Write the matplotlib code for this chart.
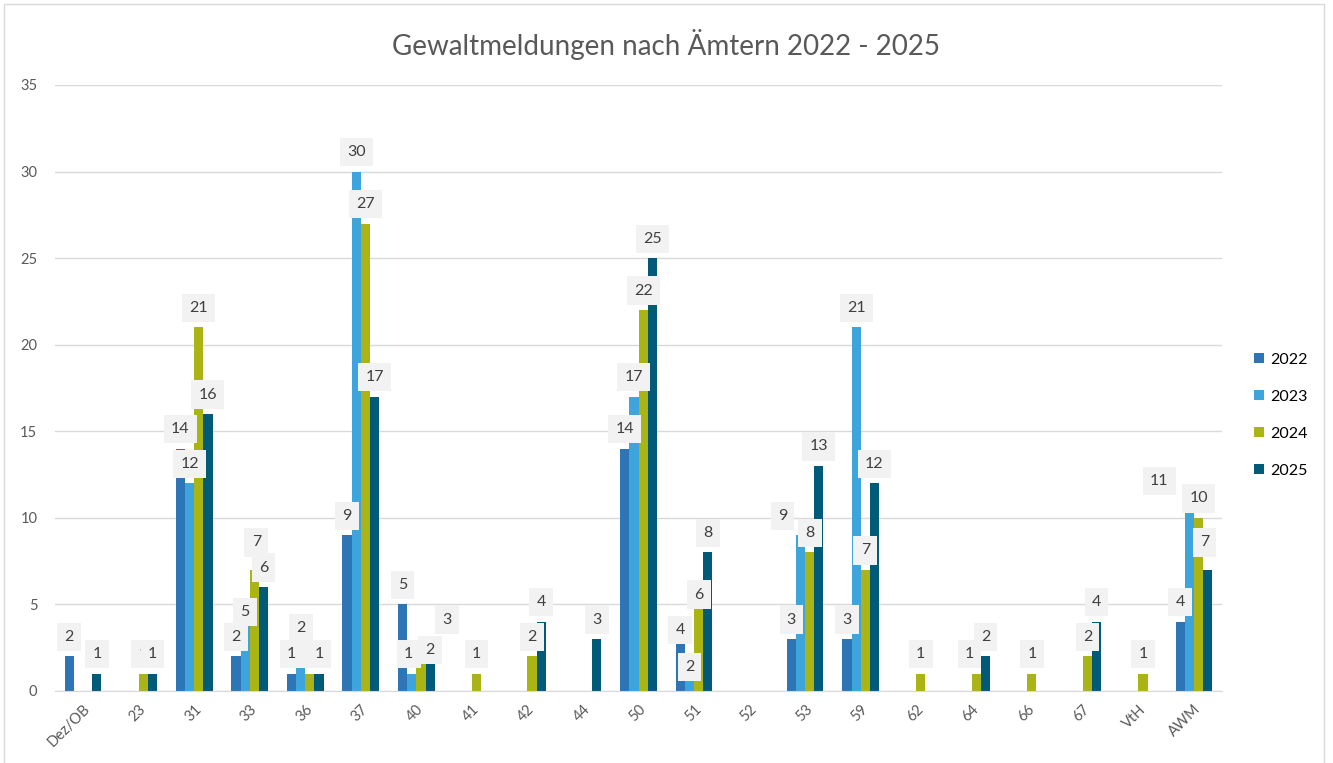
import numpy as np
import matplotlib
matplotlib.use("Agg")
import matplotlib.pyplot as plt
from matplotlib.patches import Rectangle

plt.rcParams['font.family'] = ['Lato', 'DejaVu Sans']

# Daten
aemter = ['Dez/OB', '23', '31', '33', '36', '37', '40', '41', '42', '44', '50',
          '51', '52', '53', '59', '62', '64', '66', '67', 'VtH', 'AWM']
jahre = ['2022', '2023', '2024', '2025']
w2022 = [2, 0, 14, 2, 1, 9, 5, 0, 0, 0, 14, 4, 0, 3, 3, 0, 0, 0, 0, 0, 4]
w2023 = [0, 0, 12, 5, 2, 30, 1, 0, 0, 0, 17, 2, 0, 9, 21, 0, 0, 0, 0, 0, 11]
w2024 = [0, 1, 21, 7, 1, 27, 2, 1, 2, 0, 22, 6, 0, 8, 7, 1, 1, 1, 2, 1, 10]
w2025 = [1, 1, 16, 6, 1, 17, 3, 0, 4, 3, 25, 8, 0, 13, 12, 0, 2, 0, 4, 0, 7]
farben = ['#2E75B6', '#3DA5DB', '#AAB414', '#005A78']

serien = [w2022, w2023, w2024, w2025]

# Verschiebung einzelner Beschriftungen (Pixel, rechts / runter), wie von Excel verschoben
versatz = {(3, 1): (0, 27), (3, 2): (2, -8), (4, 1): (0, -9),
           (6, 1): (-3, 0), (6, 2): (9, 13), (6, 3): (17, 0),
           (11, 0): (0, 28), (11, 1): (0, 30), (11, 2): (0, 27),
           (13, 1): (-18, 0), (16, 2): (-7, 0),
           (20, 1): (-30, 0), (20, 3): (-3, -8)}

fig = plt.figure(figsize=(13.33, 7.63), dpi=100)
ax = fig.add_axes([0.0415, 0.0944, 0.875, 0.7942])

x = np.arange(len(aemter))
bw = 0.165
for i, (werte, farbe, jahr) in enumerate(zip(serien, farben, jahre)):
    pos = x + (i - 1.5) * bw
    ax.bar(pos, werte, width=bw, color=farbe, label=jahr, zorder=2)
    for k, (px, v) in enumerate(zip(pos, werte)):
        if v == 0:
            continue
        dx, dy = versatz.get((k, i), (0, 0))
        ax.annotate(str(v), (px, v), xytext=(dx * 0.72, 14 - dy * 0.72),
                    textcoords='offset points',
                    ha='center', va='center', fontsize=11.5, color='#404040',
                    bbox=dict(boxstyle='square,pad=0.45', fc='#F2F2F2', ec='none'),
                    zorder=3)

ax.set_xlim(-0.5, len(aemter) - 0.5)
ax.set_ylim(0, 35)
ax.set_yticks(range(0, 36, 5))
ax.yaxis.grid(True, color='#D9D9D9', linewidth=1)
ax.set_axisbelow(True)
for s in ['top', 'right', 'left']:
    ax.spines[s].set_visible(False)
ax.spines['bottom'].set_color('#D9D9D9')
ax.tick_params(axis='both', length=0, colors='#595959', labelsize=10.5)
ax.tick_params(axis='y', pad=13)
ax.tick_params(axis='x', pad=8)
ax.set_xticks(x)
ax.set_xticklabels(aemter, rotation=45, ha='right', rotation_mode='anchor')

fig.text(0.5, 1 - 45 / 763, 'Gewaltmeldungen nach Ämtern 2022 - 2025', fontsize=20,
         color='#595959', ha='center', va='center')

leg = ax.legend(loc='center left', bbox_to_anchor=(1.0155, 0.455), frameon=False,
                fontsize=11.5, handlelength=0.6, handleheight=0.6, labelspacing=1.45,
                handletextpad=0.4)

fig.patches.append(Rectangle((0.003, -0.01), 0.99, 1.005, transform=fig.transFigure,
                             fill=False, ec='#D9D9D9', lw=1))

fig.savefig('out.png', dpi=100)
